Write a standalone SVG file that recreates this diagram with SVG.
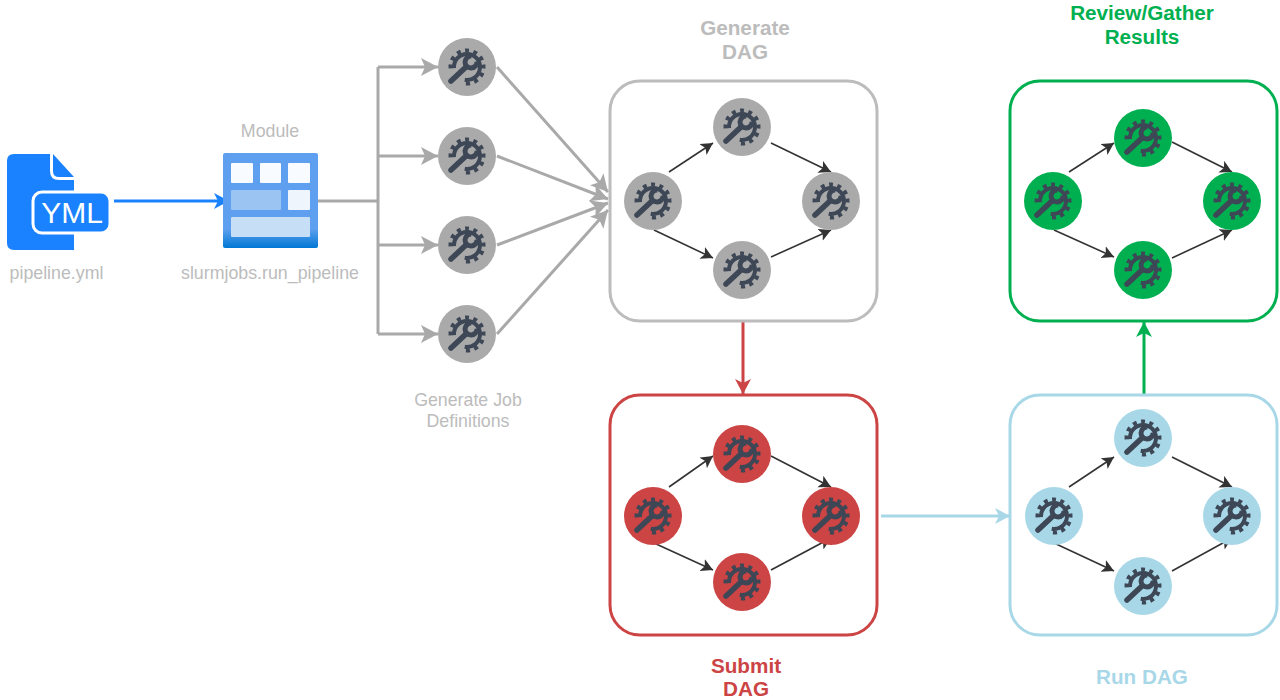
<svg xmlns="http://www.w3.org/2000/svg" width="1280" height="700" viewBox="0 0 1280 700">
<style>
text{font-family:"Liberation Sans",Arial,sans-serif;text-anchor:middle}
.lbl{font-size:17.8px;fill:#bcbcbc}
.ttl{font-size:20.7px;font-weight:bold}
.box{fill:#fff;stroke-width:3}
.k{stroke:#333;stroke-width:1.6;fill:none;marker-end:url(#ak)}
.g{stroke:#a9a9a9;stroke-width:3;fill:none}
.ga{marker-end:url(#ag)}
.gy{fill:#aaaaaa}.rd{fill:#cc4444}.bl{fill:#a8d8e8}.gn{fill:#00b050}
.i1{fill:none;stroke:#3d4756;stroke-width:4}
.i2{fill:none;stroke:#3d4756;stroke-width:4;stroke-dasharray:4 4.400}
.i3{fill:none;stroke:#3d4756;stroke-width:5.500;stroke-linecap:round}
.i4{fill:none;stroke:#3d4756;stroke-width:5}
</style>
<defs>
<marker id="ak" markerUnits="userSpaceOnUse" markerWidth="14" markerHeight="14" refX="12" refY="6.500" orient="auto"><path d="M0 0L12 6.500L0 13L3 6.500Z" fill="#333"/></marker>
<marker id="ag" markerUnits="userSpaceOnUse" markerWidth="20" markerHeight="20" refX="17" refY="9" orient="auto"><path d="M0 0L17 9L0 18L4 9Z" fill="#a9a9a9"/></marker>
<marker id="ar" markerUnits="userSpaceOnUse" markerWidth="18" markerHeight="18" refX="15" refY="8" orient="auto"><path d="M0 0L15 8L0 16L4 8Z" fill="#cc4444"/></marker>
<marker id="ab" markerUnits="userSpaceOnUse" markerWidth="18" markerHeight="18" refX="15" refY="8" orient="auto"><path d="M0 0L15 8L0 16L4 8Z" fill="#a8d8e8"/></marker>
<marker id="agn" markerUnits="userSpaceOnUse" markerWidth="18" markerHeight="18" refX="15" refY="8" orient="auto"><path d="M0 0L15 8L0 16L4 8Z" fill="#00b050"/></marker>
<marker id="af" markerUnits="userSpaceOnUse" markerWidth="18" markerHeight="18" refX="15" refY="8" orient="auto"><path d="M0 0L15 8L0 16L4 8Z" fill="#1a82ff"/></marker>
<linearGradient id="mod" x1="0" y1="0" x2="0" y2="1"><stop offset="0" stop-color="#5ea0ef"/><stop offset="0.8" stop-color="#5ea0ef"/><stop offset="1" stop-color="#0078d4"/></linearGradient>
<g id="ic">
<path class="i1" d="M-12.950 1.130A13 13 0 1 1 -2.260 12.800"/>
<path class="i2" d="M-16.440 1.440A16.500 16.500 0 1 1 -2.870 16.250"/>
<path class="i3" d="M-16 14L-1 0"/>
<path class="i4" d="M4.500 -11A6 6 0 1 0 10 -5.500"/>
</g>
</defs>
<rect width="1280" height="700" fill="#fff"/>
<g id="connectors">
<path class="g" d="M318 201H378M378 67V334"/>
<path class="g ga" d="M378 67H438"/><path class="g ga" d="M378 156H438"/><path class="g ga" d="M378 245H438"/><path class="g ga" d="M378 334H438"/>
<path class="g ga" d="M497 67L608 192"/><path class="g ga" d="M497 156L608 199"/><path class="g ga" d="M497 245L608 203"/><path class="g ga" d="M497 334L608 210"/>
<path d="M114 201H229" stroke="#1a82ff" stroke-width="3" fill="none" marker-end="url(#af)"/>
<path d="M743 322V394" stroke="#cc4444" stroke-width="3" fill="none" marker-end="url(#ar)"/>
<path d="M881 516H1010" stroke="#a8d8e8" stroke-width="3" fill="none" marker-end="url(#ab)"/>
<path d="M1144 394V322" stroke="#00b050" stroke-width="3" fill="none" marker-end="url(#agn)"/>
</g>
<g id="file">
<path d="M7 161Q7 154 14 154H50V171Q50 180 59 180H74V250H14Q7 250 7 243Z" fill="#1a82ff"/>
<path d="M53 154L74 177H59Q53 177 53 171Z" fill="#1a82ff"/>
<rect x="33" y="192" width="77" height="41" rx="9" fill="#1a82ff" stroke="#fff" stroke-width="3"/>
<text x="72" y="223" style="font-size:30px;fill:#fff">YML</text>
<text x="56.500" y="279" class="lbl">pipeline.yml</text>
</g>
<g id="module">
<rect x="223" y="153" width="95" height="95" rx="2" fill="url(#mod)"/>
<rect x="231" y="163" width="22" height="20" rx="1" fill="#f8fbff"/><rect x="260" y="163" width="21" height="20" rx="1" fill="#f8fbff"/><rect x="288" y="163" width="22" height="20" rx="1" fill="#f8fbff"/>
<rect x="231" y="190" width="50" height="20" rx="1" fill="#9cc4f2"/><rect x="288" y="190" width="22" height="20" rx="1" fill="#eef5fd"/>
<rect x="231" y="217" width="79" height="20" rx="1" fill="#c6dff6"/>
<text x="270" y="137" class="lbl">Module</text>
<text x="270" y="279" class="lbl">slurmjobs.run_pipeline</text>
</g>
<g id="jobs">
<g class="gy"><circle cx="467" cy="67" r="29"/><use href="#ic" x="467" y="67"/></g>
<g class="gy"><circle cx="467" cy="156" r="29"/><use href="#ic" x="467" y="156"/></g>
<g class="gy"><circle cx="467" cy="245" r="29"/><use href="#ic" x="467" y="245"/></g>
<g class="gy"><circle cx="467" cy="334" r="29"/><use href="#ic" x="467" y="334"/></g>
<text class="lbl" x="468" y="406">Generate Job</text><text class="lbl" x="468" y="427">Definitions</text>
</g>
<g id="generate-dag">
<rect class="box" x="610" y="81" width="267" height="240" rx="30" stroke="#bcbcbc"/>
<text class="ttl" x="745" y="35" fill="#bcbcbc">Generate</text><text class="ttl" x="745" y="59" fill="#bcbcbc">DAG</text>
<path class="k" d="M669 172L713 143"/><path class="k" d="M771 143L831 172"/><path class="k" d="M654 230L713 258"/><path class="k" d="M771 257L831 230"/>
<g class="gy"><circle cx="653" cy="201" r="29"/><circle cx="742" cy="127" r="29"/><circle cx="831" cy="201" r="29"/><circle cx="742" cy="270" r="29"/></g>
<use href="#ic" x="653" y="201"/><use href="#ic" x="742" y="127"/><use href="#ic" x="831" y="201"/><use href="#ic" x="742" y="270"/>
</g>
<g id="submit-dag">
<rect class="box" x="610" y="395" width="267" height="240" rx="30" stroke="#cc4444"/>
<text class="ttl" x="746" y="673" fill="#cc4444">Submit</text><text class="ttl" x="746" y="696" fill="#cc4444">DAG</text>
<path class="k" d="M669 487L713 456"/><path class="k" d="M771 456L831 487"/><path class="k" d="M654 543L713 570"/><path class="k" d="M771 570L831 538"/>
<g class="rd"><circle cx="653" cy="516" r="29"/><circle cx="742" cy="454" r="29"/><circle cx="831" cy="516" r="29"/><circle cx="742" cy="582" r="29"/></g>
<use href="#ic" x="653" y="516"/><use href="#ic" x="742" y="454"/><use href="#ic" x="831" y="516"/><use href="#ic" x="742" y="582"/>
</g>
<g id="run-dag">
<rect class="box" x="1010" y="395" width="267" height="240" rx="30" stroke="#a8d8e8"/>
<text class="ttl" x="1142" y="684" fill="#a8d8e8">Run DAG</text>
<path class="k" d="M1069 487L1114 457"/><path class="k" d="M1172 457L1232 487"/><path class="k" d="M1054 543L1114 571"/><path class="k" d="M1172 571L1232 538"/>
<g class="bl"><circle cx="1054" cy="516" r="29"/><circle cx="1143" cy="438" r="29"/><circle cx="1232" cy="516" r="29"/><circle cx="1143" cy="586" r="29"/></g>
<use href="#ic" x="1054" y="516"/><use href="#ic" x="1143" y="438"/><use href="#ic" x="1232" y="516"/><use href="#ic" x="1143" y="586"/>
</g>
<g id="review-dag">
<rect class="box" x="1010" y="81" width="267" height="240" rx="30" stroke="#00b050"/>
<text class="ttl" x="1142" y="20" fill="#00b050">Review/Gather</text><text class="ttl" x="1142" y="44" fill="#00b050">Results</text>
<path class="k" d="M1069 172L1114 143"/><path class="k" d="M1172 142L1232 172"/><path class="k" d="M1054 230L1114 257"/><path class="k" d="M1172 258L1232 230"/>
<g class="gn"><circle cx="1053" cy="201" r="29"/><circle cx="1143" cy="138" r="29"/><circle cx="1232" cy="201" r="29"/><circle cx="1143" cy="270" r="29"/></g>
<use href="#ic" x="1053" y="201"/><use href="#ic" x="1143" y="138"/><use href="#ic" x="1232" y="201"/><use href="#ic" x="1143" y="270"/>
</g>
</svg>
